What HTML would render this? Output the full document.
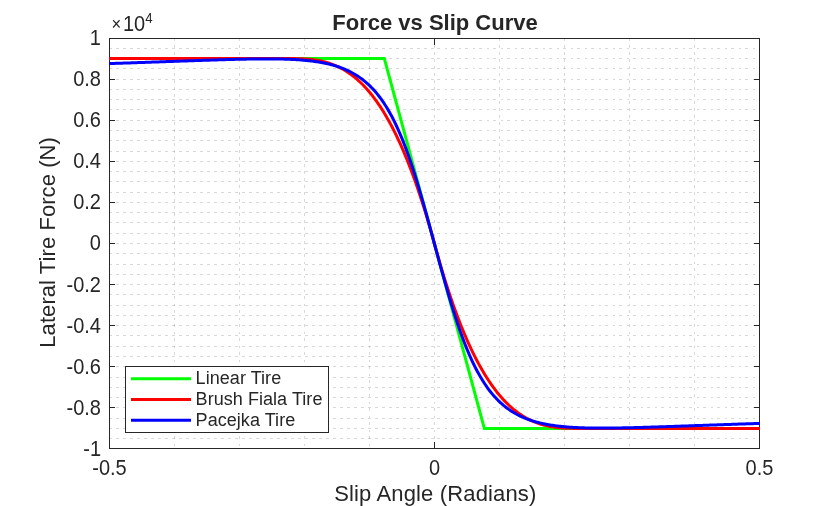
<!DOCTYPE html>
<html><head><meta charset="utf-8"><style>
html,body{margin:0;padding:0;background:#fff;}
svg{display:block;will-change:transform;}
text{font-family:"Liberation Sans",Arial,sans-serif;fill:#262626;}
</style></head><body>
<svg width="840" height="506" viewBox="0 0 840 506">
<rect width="840" height="506" fill="#fff"/>
<g stroke="#262626" stroke-opacity="0.175" stroke-width="1" shape-rendering="crispEdges" fill="none">
<path d="M109 438.5H434" stroke-dasharray="3 4"/><path d="M437 438.5H759" stroke-dasharray="3 5 2 4"/>
<path d="M109 428.5H434" stroke-dasharray="3 4"/><path d="M437 428.5H759" stroke-dasharray="3 5 2 4"/>
<path d="M109 418.5H434" stroke-dasharray="3 4"/><path d="M437 418.5H759" stroke-dasharray="3 5 2 4"/>
<path d="M109 407.5H434" stroke-dasharray="3 4"/><path d="M437 407.5H759" stroke-dasharray="3 5 2 4"/>
<path d="M109 397.5H434" stroke-dasharray="3 4"/><path d="M437 397.5H759" stroke-dasharray="3 5 2 4"/>
<path d="M109 387.5H434" stroke-dasharray="3 4"/><path d="M437 387.5H759" stroke-dasharray="3 5 2 4"/>
<path d="M109 377.5H434" stroke-dasharray="3 4"/><path d="M437 377.5H759" stroke-dasharray="3 5 2 4"/>
<path d="M109 366.5H434" stroke-dasharray="3 4"/><path d="M437 366.5H759" stroke-dasharray="3 5 2 4"/>
<path d="M109 356.5H434" stroke-dasharray="3 4"/><path d="M437 356.5H759" stroke-dasharray="3 5 2 4"/>
<path d="M109 346.5H434" stroke-dasharray="3 4"/><path d="M437 346.5H759" stroke-dasharray="3 5 2 4"/>
<path d="M109 335.5H434" stroke-dasharray="3 4"/><path d="M437 335.5H759" stroke-dasharray="3 5 2 4"/>
<path d="M109 325.5H434" stroke-dasharray="3 4"/><path d="M437 325.5H759" stroke-dasharray="3 5 2 4"/>
<path d="M109 315.5H434" stroke-dasharray="3 4"/><path d="M437 315.5H759" stroke-dasharray="3 5 2 4"/>
<path d="M109 305.5H434" stroke-dasharray="3 4"/><path d="M437 305.5H759" stroke-dasharray="3 5 2 4"/>
<path d="M109 294.5H434" stroke-dasharray="3 4"/><path d="M437 294.5H759" stroke-dasharray="3 5 2 4"/>
<path d="M109 284.5H434" stroke-dasharray="3 4"/><path d="M437 284.5H759" stroke-dasharray="3 5 2 4"/>
<path d="M109 274.5H434" stroke-dasharray="3 4"/><path d="M437 274.5H759" stroke-dasharray="3 5 2 4"/>
<path d="M109 264.5H434" stroke-dasharray="3 4"/><path d="M437 264.5H759" stroke-dasharray="3 5 2 4"/>
<path d="M109 253.5H434" stroke-dasharray="3 4"/><path d="M437 253.5H759" stroke-dasharray="3 5 2 4"/>
<path d="M109 243.5H434" stroke-dasharray="3 4"/><path d="M437 243.5H759" stroke-dasharray="3 5 2 4"/>
<path d="M109 233.5H434" stroke-dasharray="3 4"/><path d="M437 233.5H759" stroke-dasharray="3 5 2 4"/>
<path d="M109 222.5H434" stroke-dasharray="3 4"/><path d="M437 222.5H759" stroke-dasharray="3 5 2 4"/>
<path d="M109 212.5H434" stroke-dasharray="3 4"/><path d="M437 212.5H759" stroke-dasharray="3 5 2 4"/>
<path d="M109 202.5H434" stroke-dasharray="3 4"/><path d="M437 202.5H759" stroke-dasharray="3 5 2 4"/>
<path d="M109 192.5H434" stroke-dasharray="3 4"/><path d="M437 192.5H759" stroke-dasharray="3 5 2 4"/>
<path d="M109 181.5H434" stroke-dasharray="3 4"/><path d="M437 181.5H759" stroke-dasharray="3 5 2 4"/>
<path d="M109 171.5H434" stroke-dasharray="3 4"/><path d="M437 171.5H759" stroke-dasharray="3 5 2 4"/>
<path d="M109 161.5H434" stroke-dasharray="3 4"/><path d="M437 161.5H759" stroke-dasharray="3 5 2 4"/>
<path d="M109 151.5H434" stroke-dasharray="3 4"/><path d="M437 151.5H759" stroke-dasharray="3 5 2 4"/>
<path d="M109 140.5H434" stroke-dasharray="3 4"/><path d="M437 140.5H759" stroke-dasharray="3 5 2 4"/>
<path d="M109 130.5H434" stroke-dasharray="3 4"/><path d="M437 130.5H759" stroke-dasharray="3 5 2 4"/>
<path d="M109 120.5H434" stroke-dasharray="3 4"/><path d="M437 120.5H759" stroke-dasharray="3 5 2 4"/>
<path d="M109 109.5H434" stroke-dasharray="3 4"/><path d="M437 109.5H759" stroke-dasharray="3 5 2 4"/>
<path d="M109 99.5H434" stroke-dasharray="3 4"/><path d="M437 99.5H759" stroke-dasharray="3 5 2 4"/>
<path d="M109 89.5H434" stroke-dasharray="3 4"/><path d="M437 89.5H759" stroke-dasharray="3 5 2 4"/>
<path d="M109 79.5H434" stroke-dasharray="3 4"/><path d="M437 79.5H759" stroke-dasharray="3 5 2 4"/>
<path d="M109 68.5H434" stroke-dasharray="3 4"/><path d="M437 68.5H759" stroke-dasharray="3 5 2 4"/>
<path d="M109 58.5H434" stroke-dasharray="3 4"/><path d="M437 58.5H759" stroke-dasharray="3 5 2 4"/>
<path d="M109 48.5H434" stroke-dasharray="3 4"/><path d="M437 48.5H759" stroke-dasharray="3 5 2 4"/>
<path d="M174.5 38V244" stroke-dasharray="3 4"/><path d="M174.5 248V448" stroke-dasharray="2 4 3 5"/>
<path d="M239.5 38V244" stroke-dasharray="3 4"/><path d="M239.5 248V448" stroke-dasharray="2 4 3 5"/>
<path d="M304.5 38V244" stroke-dasharray="3 4"/><path d="M304.5 248V448" stroke-dasharray="2 4 3 5"/>
<path d="M369.5 38V244" stroke-dasharray="3 4"/><path d="M369.5 248V448" stroke-dasharray="2 4 3 5"/>
<path d="M434.5 38V244" stroke-dasharray="3 4"/><path d="M434.5 248V448" stroke-dasharray="2 4 3 5"/>
<path d="M499.5 38V244" stroke-dasharray="3 4"/><path d="M499.5 248V448" stroke-dasharray="2 4 3 5"/>
<path d="M564.5 38V244" stroke-dasharray="3 4"/><path d="M564.5 248V448" stroke-dasharray="2 4 3 5"/>
<path d="M629.5 38V244" stroke-dasharray="3 4"/><path d="M629.5 248V448" stroke-dasharray="2 4 3 5"/>
<path d="M694.5 38V244" stroke-dasharray="3 4"/><path d="M694.5 248V448" stroke-dasharray="2 4 3 5"/>
</g>
<g stroke="#262626" stroke-width="1" shape-rendering="crispEdges" fill="none">
<rect x="109.5" y="38.5" width="650" height="410"/>
<line x1="109" y1="407.5" x2="115" y2="407.5"/>
<line x1="760" y1="407.5" x2="754" y2="407.5"/>
<line x1="109" y1="366.5" x2="115" y2="366.5"/>
<line x1="760" y1="366.5" x2="754" y2="366.5"/>
<line x1="109" y1="325.5" x2="115" y2="325.5"/>
<line x1="760" y1="325.5" x2="754" y2="325.5"/>
<line x1="109" y1="284.5" x2="115" y2="284.5"/>
<line x1="760" y1="284.5" x2="754" y2="284.5"/>
<line x1="109" y1="243.5" x2="115" y2="243.5"/>
<line x1="760" y1="243.5" x2="754" y2="243.5"/>
<line x1="109" y1="202.5" x2="115" y2="202.5"/>
<line x1="760" y1="202.5" x2="754" y2="202.5"/>
<line x1="109" y1="161.5" x2="115" y2="161.5"/>
<line x1="760" y1="161.5" x2="754" y2="161.5"/>
<line x1="109" y1="120.5" x2="115" y2="120.5"/>
<line x1="760" y1="120.5" x2="754" y2="120.5"/>
<line x1="109" y1="79.5" x2="115" y2="79.5"/>
<line x1="760" y1="79.5" x2="754" y2="79.5"/>
<line x1="434.5" y1="38" x2="434.5" y2="45"/>
<line x1="434.5" y1="449" x2="434.5" y2="442"/>
</g>
<g fill="none" stroke-width="3" stroke-linejoin="round" stroke-linecap="butt">
<polyline stroke="#00ff00" stroke-linejoin="miter" points="109.0,58.59 384.35,58.59 484.35,428.41 760.0,428.41"/>
<polyline stroke="#ff0000" points="109.0,58.59 109.35,58.59 110.65,58.59 111.95,58.59 113.25,58.59 114.55,58.59 115.85,58.59 117.15,58.59 118.45,58.59 119.75,58.59 121.05,58.59 122.35,58.59 123.65,58.59 124.95,58.59 126.25,58.59 127.55,58.59 128.85,58.59 130.15,58.59 131.45,58.59 132.75,58.59 134.05,58.59 135.35,58.59 136.65,58.59 137.95,58.59 139.25,58.59 140.55,58.59 141.85,58.59 143.15,58.59 144.45,58.59 145.75,58.59 147.05,58.59 148.35,58.59 149.65,58.59 150.95,58.59 152.25,58.59 153.55,58.59 154.85,58.59 156.15,58.59 157.45,58.59 158.75,58.59 160.05,58.59 161.35,58.59 162.65,58.59 163.95,58.59 165.25,58.59 166.55,58.59 167.85,58.59 169.15,58.59 170.45,58.59 171.75,58.59 173.05,58.59 174.35,58.59 175.65,58.59 176.95,58.59 178.25,58.59 179.55,58.59 180.85,58.59 182.15,58.59 183.45,58.59 184.75,58.59 186.05,58.59 187.35,58.59 188.65,58.59 189.95,58.59 191.25,58.59 192.55,58.59 193.85,58.59 195.15,58.59 196.45,58.59 197.75,58.59 199.05,58.59 200.35,58.59 201.65,58.59 202.95,58.59 204.25,58.59 205.55,58.59 206.85,58.59 208.15,58.59 209.45,58.59 210.75,58.59 212.05,58.59 213.35,58.59 214.65,58.59 215.95,58.59 217.25,58.59 218.55,58.59 219.85,58.59 221.15,58.59 222.45,58.59 223.75,58.59 225.05,58.59 226.35,58.59 227.65,58.59 228.95,58.59 230.25,58.59 231.55,58.59 232.85,58.59 234.15,58.59 235.45,58.59 236.75,58.59 238.05,58.59 239.35,58.59 240.65,58.59 241.95,58.59 243.25,58.59 244.55,58.59 245.85,58.59 247.15,58.59 248.45,58.59 249.75,58.59 251.05,58.59 252.35,58.59 253.65,58.59 254.95,58.59 256.25,58.59 257.55,58.59 258.85,58.59 260.15,58.59 261.45,58.59 262.75,58.59 264.05,58.59 265.35,58.59 266.65,58.59 267.95,58.59 269.25,58.59 270.55,58.59 271.85,58.59 273.15,58.59 274.45,58.59 275.75,58.59 277.05,58.59 278.35,58.59 279.65,58.59 280.95,58.59 282.25,58.59 283.55,58.59 284.85,58.59 286.15,58.59 287.45,58.59 288.75,58.59 290.05,58.59 291.35,58.59 292.65,58.60 293.95,58.61 295.25,58.62 296.55,58.64 297.85,58.67 299.15,58.70 300.45,58.74 301.75,58.79 303.05,58.85 304.35,58.92 305.65,59.00 306.95,59.09 308.25,59.19 309.55,59.31 310.85,59.44 312.15,59.59 313.45,59.75 314.75,59.93 316.05,60.12 317.35,60.33 318.65,60.57 319.95,60.82 321.25,61.09 322.55,61.38 323.85,61.69 325.15,62.03 326.45,62.39 327.75,62.77 329.05,63.18 330.35,63.61 331.65,64.07 332.95,64.56 334.25,65.07 335.55,65.61 336.85,66.18 338.15,66.79 339.45,67.42 340.75,68.08 342.05,68.77 343.35,69.50 344.65,70.26 345.95,71.05 347.25,71.88 348.55,72.75 349.85,73.65 351.15,74.58 352.45,75.56 353.75,76.57 355.05,77.62 356.35,78.72 357.65,79.85 358.95,81.02 360.25,82.24 361.55,83.50 362.85,84.80 364.15,86.14 365.45,87.53 366.75,88.97 368.05,90.45 369.35,91.98 370.65,93.55 371.95,95.17 373.25,96.85 374.55,98.57 375.85,100.34 377.15,102.16 378.45,104.04 379.75,105.96 381.05,107.94 382.35,109.98 383.65,112.07 384.95,114.21 386.25,116.41 387.55,118.66 388.85,120.98 390.15,123.35 391.45,125.78 392.75,128.26 394.05,130.81 395.35,133.42 396.65,136.09 397.95,138.83 399.25,141.62 400.55,144.48 401.85,147.41 403.15,150.39 404.45,153.45 405.75,156.57 407.05,159.76 408.35,163.01 409.65,166.34 410.95,169.73 412.25,173.20 413.55,176.73 414.85,180.34 416.15,184.01 417.45,187.77 418.75,191.59 420.05,195.49 421.35,199.46 422.65,203.51 423.95,207.64 425.25,211.84 426.55,216.13 427.85,220.49 429.15,224.93 430.45,229.45 431.75,234.05 433.05,238.73 434.35,243.50 435.65,248.27 436.95,252.95 438.25,257.55 439.55,262.07 440.85,266.51 442.15,270.87 443.45,275.16 444.75,279.36 446.05,283.49 447.35,287.54 448.65,291.51 449.95,295.41 451.25,299.23 452.55,302.99 453.85,306.66 455.15,310.27 456.45,313.80 457.75,317.27 459.05,320.66 460.35,323.99 461.65,327.24 462.95,330.43 464.25,333.55 465.55,336.61 466.85,339.59 468.15,342.52 469.45,345.38 470.75,348.17 472.05,350.91 473.35,353.58 474.65,356.19 475.95,358.74 477.25,361.22 478.55,363.65 479.85,366.02 481.15,368.34 482.45,370.59 483.75,372.79 485.05,374.93 486.35,377.02 487.65,379.06 488.95,381.04 490.25,382.96 491.55,384.84 492.85,386.66 494.15,388.43 495.45,390.15 496.75,391.83 498.05,393.45 499.35,395.02 500.65,396.55 501.95,398.03 503.25,399.47 504.55,400.86 505.85,402.20 507.15,403.50 508.45,404.76 509.75,405.98 511.05,407.15 512.35,408.28 513.65,409.38 514.95,410.43 516.25,411.44 517.55,412.42 518.85,413.35 520.15,414.25 521.45,415.12 522.75,415.95 524.05,416.74 525.35,417.50 526.65,418.23 527.95,418.92 529.25,419.58 530.55,420.21 531.85,420.82 533.15,421.39 534.45,421.93 535.75,422.44 537.05,422.93 538.35,423.39 539.65,423.82 540.95,424.23 542.25,424.61 543.55,424.97 544.85,425.31 546.15,425.62 547.45,425.91 548.75,426.18 550.05,426.43 551.35,426.67 552.65,426.88 553.95,427.07 555.25,427.25 556.55,427.41 557.85,427.56 559.15,427.69 560.45,427.81 561.75,427.91 563.05,428.00 564.35,428.08 565.65,428.15 566.95,428.21 568.25,428.26 569.55,428.30 570.85,428.33 572.15,428.36 573.45,428.38 574.75,428.39 576.05,428.40 577.35,428.41 578.65,428.41 579.95,428.41 581.25,428.41 582.55,428.41 583.85,428.41 585.15,428.41 586.45,428.41 587.75,428.41 589.05,428.41 590.35,428.41 591.65,428.41 592.95,428.41 594.25,428.41 595.55,428.41 596.85,428.41 598.15,428.41 599.45,428.41 600.75,428.41 602.05,428.41 603.35,428.41 604.65,428.41 605.95,428.41 607.25,428.41 608.55,428.41 609.85,428.41 611.15,428.41 612.45,428.41 613.75,428.41 615.05,428.41 616.35,428.41 617.65,428.41 618.95,428.41 620.25,428.41 621.55,428.41 622.85,428.41 624.15,428.41 625.45,428.41 626.75,428.41 628.05,428.41 629.35,428.41 630.65,428.41 631.95,428.41 633.25,428.41 634.55,428.41 635.85,428.41 637.15,428.41 638.45,428.41 639.75,428.41 641.05,428.41 642.35,428.41 643.65,428.41 644.95,428.41 646.25,428.41 647.55,428.41 648.85,428.41 650.15,428.41 651.45,428.41 652.75,428.41 654.05,428.41 655.35,428.41 656.65,428.41 657.95,428.41 659.25,428.41 660.55,428.41 661.85,428.41 663.15,428.41 664.45,428.41 665.75,428.41 667.05,428.41 668.35,428.41 669.65,428.41 670.95,428.41 672.25,428.41 673.55,428.41 674.85,428.41 676.15,428.41 677.45,428.41 678.75,428.41 680.05,428.41 681.35,428.41 682.65,428.41 683.95,428.41 685.25,428.41 686.55,428.41 687.85,428.41 689.15,428.41 690.45,428.41 691.75,428.41 693.05,428.41 694.35,428.41 695.65,428.41 696.95,428.41 698.25,428.41 699.55,428.41 700.85,428.41 702.15,428.41 703.45,428.41 704.75,428.41 706.05,428.41 707.35,428.41 708.65,428.41 709.95,428.41 711.25,428.41 712.55,428.41 713.85,428.41 715.15,428.41 716.45,428.41 717.75,428.41 719.05,428.41 720.35,428.41 721.65,428.41 722.95,428.41 724.25,428.41 725.55,428.41 726.85,428.41 728.15,428.41 729.45,428.41 730.75,428.41 732.05,428.41 733.35,428.41 734.65,428.41 735.95,428.41 737.25,428.41 738.55,428.41 739.85,428.41 741.15,428.41 742.45,428.41 743.75,428.41 745.05,428.41 746.35,428.41 747.65,428.41 748.95,428.41 750.25,428.41 751.55,428.41 752.85,428.41 754.15,428.41 755.45,428.41 756.75,428.41 758.05,428.41 759.35,428.41 760.0,428.41"/>
<polyline stroke="#0000ff" points="109.0,63.56 109.35,63.56 110.65,63.51 111.95,63.47 113.25,63.43 114.55,63.39 115.85,63.35 117.15,63.31 118.45,63.26 119.75,63.22 121.05,63.18 122.35,63.14 123.65,63.09 124.95,63.05 126.25,63.01 127.55,62.96 128.85,62.92 130.15,62.88 131.45,62.83 132.75,62.79 134.05,62.75 135.35,62.70 136.65,62.66 137.95,62.62 139.25,62.57 140.55,62.53 141.85,62.48 143.15,62.44 144.45,62.39 145.75,62.35 147.05,62.30 148.35,62.26 149.65,62.21 150.95,62.17 152.25,62.12 153.55,62.08 154.85,62.03 156.15,61.99 157.45,61.94 158.75,61.90 160.05,61.85 161.35,61.81 162.65,61.76 163.95,61.72 165.25,61.67 166.55,61.62 167.85,61.58 169.15,61.53 170.45,61.49 171.75,61.44 173.05,61.39 174.35,61.35 175.65,61.30 176.95,61.26 178.25,61.21 179.55,61.17 180.85,61.12 182.15,61.07 183.45,61.03 184.75,60.98 186.05,60.94 187.35,60.89 188.65,60.84 189.95,60.80 191.25,60.75 192.55,60.71 193.85,60.66 195.15,60.62 196.45,60.57 197.75,60.53 199.05,60.48 200.35,60.44 201.65,60.40 202.95,60.35 204.25,60.31 205.55,60.26 206.85,60.22 208.15,60.18 209.45,60.13 210.75,60.09 212.05,60.05 213.35,60.01 214.65,59.97 215.95,59.92 217.25,59.88 218.55,59.84 219.85,59.80 221.15,59.76 222.45,59.72 223.75,59.68 225.05,59.65 226.35,59.61 227.65,59.57 228.95,59.53 230.25,59.50 231.55,59.46 232.85,59.43 234.15,59.40 235.45,59.36 236.75,59.33 238.05,59.30 239.35,59.27 240.65,59.24 241.95,59.21 243.25,59.18 244.55,59.15 245.85,59.13 247.15,59.10 248.45,59.08 249.75,59.06 251.05,59.04 252.35,59.02 253.65,59.00 254.95,58.98 256.25,58.97 257.55,58.95 258.85,58.94 260.15,58.93 261.45,58.92 262.75,58.91 264.05,58.91 265.35,58.90 266.65,58.90 267.95,58.90 269.25,58.91 270.55,58.91 271.85,58.92 273.15,58.93 274.45,58.94 275.75,58.96 277.05,58.98 278.35,59.00 279.65,59.02 280.95,59.05 282.25,59.08 283.55,59.12 284.85,59.16 286.15,59.20 287.45,59.24 288.75,59.29 290.05,59.35 291.35,59.41 292.65,59.47 293.95,59.54 295.25,59.61 296.55,59.69 297.85,59.77 299.15,59.86 300.45,59.96 301.75,60.06 303.05,60.17 304.35,60.28 305.65,60.40 306.95,60.53 308.25,60.66 309.55,60.81 310.85,60.96 312.15,61.12 313.45,61.29 314.75,61.47 316.05,61.65 317.35,61.85 318.65,62.06 319.95,62.28 321.25,62.51 322.55,62.75 323.85,63.00 325.15,63.27 326.45,63.55 327.75,63.84 329.05,64.15 330.35,64.47 331.65,64.81 332.95,65.16 334.25,65.53 335.55,65.92 336.85,66.33 338.15,66.76 339.45,67.20 340.75,67.67 342.05,68.16 343.35,68.67 344.65,69.20 345.95,69.76 347.25,70.35 348.55,70.96 349.85,71.60 351.15,72.27 352.45,72.97 353.75,73.70 355.05,74.46 356.35,75.26 357.65,76.09 358.95,76.96 360.25,77.86 361.55,78.81 362.85,79.80 364.15,80.83 365.45,81.90 366.75,83.03 368.05,84.20 369.35,85.42 370.65,86.69 371.95,88.02 373.25,89.40 374.55,90.84 375.85,92.34 377.15,93.90 378.45,95.53 379.75,97.22 381.05,98.98 382.35,100.82 383.65,102.72 384.95,104.70 386.25,106.76 387.55,108.90 388.85,111.12 390.15,113.42 391.45,115.80 392.75,118.28 394.05,120.84 395.35,123.49 396.65,126.24 397.95,129.08 399.25,132.02 400.55,135.05 401.85,138.17 403.15,141.40 404.45,144.72 405.75,148.14 407.05,151.65 408.35,155.27 409.65,158.97 410.95,162.78 412.25,166.67 413.55,170.66 414.85,174.73 416.15,178.89 417.45,183.13 418.75,187.45 420.05,191.84 421.35,196.30 422.65,200.83 423.95,205.41 425.25,210.05 426.55,214.74 427.85,219.47 429.15,224.23 430.45,229.02 431.75,233.84 433.05,238.67 434.35,243.50 435.65,248.33 436.95,253.16 438.25,257.98 439.55,262.77 440.85,267.53 442.15,272.26 443.45,276.95 444.75,281.59 446.05,286.17 447.35,290.70 448.65,295.16 449.95,299.55 451.25,303.87 452.55,308.11 453.85,312.27 455.15,316.34 456.45,320.33 457.75,324.22 459.05,328.03 460.35,331.73 461.65,335.35 462.95,338.86 464.25,342.28 465.55,345.60 466.85,348.83 468.15,351.95 469.45,354.98 470.75,357.92 472.05,360.76 473.35,363.51 474.65,366.16 475.95,368.72 477.25,371.20 478.55,373.58 479.85,375.88 481.15,378.10 482.45,380.24 483.75,382.30 485.05,384.28 486.35,386.18 487.65,388.02 488.95,389.78 490.25,391.47 491.55,393.10 492.85,394.66 494.15,396.16 495.45,397.60 496.75,398.98 498.05,400.31 499.35,401.58 500.65,402.80 501.95,403.97 503.25,405.10 504.55,406.17 505.85,407.20 507.15,408.19 508.45,409.14 509.75,410.04 511.05,410.91 512.35,411.74 513.65,412.54 514.95,413.30 516.25,414.03 517.55,414.73 518.85,415.40 520.15,416.04 521.45,416.65 522.75,417.24 524.05,417.80 525.35,418.33 526.65,418.84 527.95,419.33 529.25,419.80 530.55,420.24 531.85,420.67 533.15,421.08 534.45,421.47 535.75,421.84 537.05,422.19 538.35,422.53 539.65,422.85 540.95,423.16 542.25,423.45 543.55,423.73 544.85,424.00 546.15,424.25 547.45,424.49 548.75,424.72 550.05,424.94 551.35,425.15 552.65,425.35 553.95,425.53 555.25,425.71 556.55,425.88 557.85,426.04 559.15,426.19 560.45,426.34 561.75,426.47 563.05,426.60 564.35,426.72 565.65,426.83 566.95,426.94 568.25,427.04 569.55,427.14 570.85,427.23 572.15,427.31 573.45,427.39 574.75,427.46 576.05,427.53 577.35,427.59 578.65,427.65 579.95,427.71 581.25,427.76 582.55,427.80 583.85,427.84 585.15,427.88 586.45,427.92 587.75,427.95 589.05,427.98 590.35,428.00 591.65,428.02 592.95,428.04 594.25,428.06 595.55,428.07 596.85,428.08 598.15,428.09 599.45,428.09 600.75,428.10 602.05,428.10 603.35,428.10 604.65,428.09 605.95,428.09 607.25,428.08 608.55,428.07 609.85,428.06 611.15,428.05 612.45,428.03 613.75,428.02 615.05,428.00 616.35,427.98 617.65,427.96 618.95,427.94 620.25,427.92 621.55,427.90 622.85,427.87 624.15,427.85 625.45,427.82 626.75,427.79 628.05,427.76 629.35,427.73 630.65,427.70 631.95,427.67 633.25,427.64 634.55,427.60 635.85,427.57 637.15,427.54 638.45,427.50 639.75,427.47 641.05,427.43 642.35,427.39 643.65,427.35 644.95,427.32 646.25,427.28 647.55,427.24 648.85,427.20 650.15,427.16 651.45,427.12 652.75,427.08 654.05,427.03 655.35,426.99 656.65,426.95 657.95,426.91 659.25,426.87 660.55,426.82 661.85,426.78 663.15,426.74 664.45,426.69 665.75,426.65 667.05,426.60 668.35,426.56 669.65,426.52 670.95,426.47 672.25,426.43 673.55,426.38 674.85,426.34 676.15,426.29 677.45,426.25 678.75,426.20 680.05,426.16 681.35,426.11 682.65,426.06 683.95,426.02 685.25,425.97 686.55,425.93 687.85,425.88 689.15,425.83 690.45,425.79 691.75,425.74 693.05,425.70 694.35,425.65 695.65,425.61 696.95,425.56 698.25,425.51 699.55,425.47 700.85,425.42 702.15,425.38 703.45,425.33 704.75,425.28 706.05,425.24 707.35,425.19 708.65,425.15 709.95,425.10 711.25,425.06 712.55,425.01 713.85,424.97 715.15,424.92 716.45,424.88 717.75,424.83 719.05,424.79 720.35,424.74 721.65,424.70 722.95,424.65 724.25,424.61 725.55,424.56 726.85,424.52 728.15,424.47 729.45,424.43 730.75,424.38 732.05,424.34 733.35,424.30 734.65,424.25 735.95,424.21 737.25,424.17 738.55,424.12 739.85,424.08 741.15,424.04 742.45,423.99 743.75,423.95 745.05,423.91 746.35,423.86 747.65,423.82 748.95,423.78 750.25,423.74 751.55,423.69 752.85,423.65 754.15,423.61 755.45,423.57 756.75,423.53 758.05,423.49 759.35,423.44 760.0,423.44"/>
</g>
<g font-size="21.2">
<text transform="translate(101 456) scale(0.9434 1)" text-anchor="end">-1</text>
<text transform="translate(101 415) scale(0.9434 1)" text-anchor="end">-0.8</text>
<text transform="translate(101 374) scale(0.9434 1)" text-anchor="end">-0.6</text>
<text transform="translate(101 333) scale(0.9434 1)" text-anchor="end">-0.4</text>
<text transform="translate(101 292) scale(0.9434 1)" text-anchor="end">-0.2</text>
<text transform="translate(101 250) scale(0.9434 1)" text-anchor="end">0</text>
<text transform="translate(101 209) scale(0.9434 1)" text-anchor="end">0.2</text>
<text transform="translate(101 168) scale(0.9434 1)" text-anchor="end">0.4</text>
<text transform="translate(101 127) scale(0.9434 1)" text-anchor="end">0.6</text>
<text transform="translate(101 86) scale(0.9434 1)" text-anchor="end">0.8</text>
<text transform="translate(101 45) scale(0.9434 1)" text-anchor="end">1</text>
<text transform="translate(109.5 475) scale(0.9434 1)" text-anchor="middle">-0.5</text>
<text transform="translate(434.5 475) scale(0.9434 1)" text-anchor="middle">0</text>
<text transform="translate(759.5 475) scale(0.9434 1)" text-anchor="middle">0.5</text>
<text transform="translate(111 31) scale(0.9434 1)"><tspan font-size="17.5" dy="-0.6" dx="0.5">×</tspan><tspan dy="0.6" dx="2.0">10</tspan><tspan font-size="14" dy="-8">4</tspan></text>
</g>
<text x="435" y="29.5" font-size="22" font-weight="bold" text-anchor="middle">Force vs Slip Curve</text>
<text x="435.3" y="501" font-size="22" text-anchor="middle" letter-spacing="0.15">Slip Angle (Radians)</text>
<text transform="translate(55.2,242.4) rotate(-90)" font-size="22" text-anchor="middle" letter-spacing="0.07">Lateral Tire Force (N)</text>
<rect x="125.5" y="366.5" width="203" height="66" fill="#fff" stroke="#262626" stroke-width="1" shape-rendering="crispEdges"/>
<g stroke-width="3">
<line x1="131" y1="378.7" x2="191" y2="378.7" stroke="#00ff00"/>
<line x1="131" y1="399.5" x2="191" y2="399.5" stroke="#ff0000"/>
<line x1="131" y1="420.2" x2="191" y2="420.2" stroke="#0000ff"/>
</g>
<g font-size="18" letter-spacing="0.05">
<text x="195.6" y="384.3">Linear Tire</text>
<text x="195.6" y="405.1">Brush Fiala Tire</text>
<text x="195.6" y="425.9">Pacejka Tire</text>
</g>
</svg>
</body></html>
